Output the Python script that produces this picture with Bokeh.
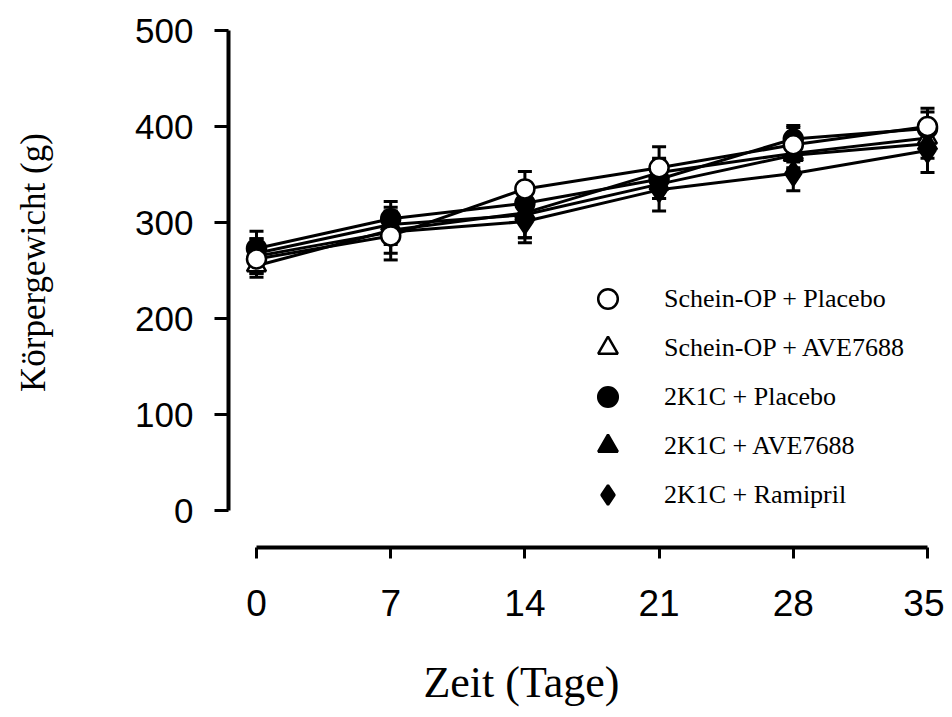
import math
from bokeh.plotting import figure
from bokeh.models import (ColumnDataSource, Whisker, TeeHead, Legend, LegendItem,
                          FixedTicker, Range1d, Label)
from bokeh.embed import file_html
from bokeh.resources import INLINE

# ---- data ----
days = [0, 7, 14, 21, 28, 35]
x_ticks = [0, 7, 14, 21, 28, 35]
y_ticks = [0, 100, 200, 300, 400, 500]

labels = ["Schein-OP + Placebo", "Schein-OP + AVE7688", "2K1C + Placebo",
          "2K1C + AVE7688", "2K1C + Ramipril"]

sham_placebo = [262, 286, 335, 357, 381, 400]
sham_placebo_err = [15, 25, 18, 22, 18, 19]
sham_ave = [255, 292, 310, 352, 372, 388]
sham_ave_err = [12, 15, 26, 15, 15, 15]
k_placebo = [273, 304, 320, 345, 387, 398]
k_placebo_err = [18, 18, 18, 20, 14, 17]
k_ave = [268, 298, 308, 340, 370, 382]
k_ave_err = [15, 18, 24, 15, 15, 15]
k_ramipril = [265, 290, 301, 334, 351, 375]
k_ramipril_err = [18, 22, 22, 22, 18, 23]

series = [
    # (values, errors, marker, fill)
    (sham_placebo, sham_placebo_err, "circle", "white"),
    (sham_ave, sham_ave_err, "triangle", "white"),
    (k_placebo, k_placebo_err, "circle", "black"),
    (k_ave, k_ave_err, "triangle", "black"),
    (k_ramipril, k_ramipril_err, "diamond", "black"),
]

p = figure(width=944, height=717, output_backend="svg", toolbar_location=None,
           x_range=Range1d(-1.4605, 35.887), y_range=Range1d(-38.54, 510.42),
           min_border_left=228, min_border_right=0, min_border_top=20,
           min_border_bottom=170)
p.outline_line_color = None
p.xgrid.visible = False
p.ygrid.visible = False
p.background_fill_color = "white"
p.border_fill_color = "white"

# axes
for ax in (p.xaxis[0], p.yaxis[0]):
    ax.axis_line_width = 4
    ax.axis_line_color = "black"
    ax.major_tick_line_width = 3
    ax.major_tick_line_color = "black"
    ax.major_tick_in = 0
    ax.minor_tick_line_color = None
    ax.major_label_text_font = "Liberation Sans"
    ax.major_label_text_color = "black"

p.yaxis[0].bounds = (0, 500)
p.yaxis[0].ticker = FixedTicker(ticks=y_ticks)
p.yaxis[0].major_tick_out = 14
p.yaxis[0].major_label_standoff = 21
p.yaxis[0].major_label_text_font_size = "35px"

p.xaxis[0].bounds = (0, 35)
p.xaxis[0].ticker = FixedTicker(ticks=x_ticks)
p.xaxis[0].major_tick_out = 11
p.xaxis[0].major_label_standoff = 31
p.xaxis[0].major_label_text_font_size = "37px"

# lines first
for vals, errs, marker, fill in series:
    p.line(days, vals, line_color="black", line_width=3)

# error bars
for vals, errs, marker, fill in series:
    src = ColumnDataSource(dict(x=days,
                                upper=[v + e for v, e in zip(vals, errs)],
                                lower=[v - e for v, e in zip(vals, errs)]))
    w = Whisker(base="x", upper="upper", lower="lower", source=src,
                line_width=3, line_color="black",
                upper_head=TeeHead(size=14, line_width=3, line_color="black"),
                lower_head=TeeHead(size=14, line_width=3, line_color="black"))
    p.add_layout(w)

# markers (draw order so open circle is on top)
renderers = {}
order = [1, 3, 2, 4, 0]
for i in order:
    vals, errs, marker, fill = series[i]
    size = 24 if marker == "diamond" else 19
    r = p.scatter(days, vals, marker=marker, size=size, fill_color=fill,
                  line_color="black", line_width=2.5)
    renderers[i] = r

legend = Legend(items=[LegendItem(label=labels[i], renderers=[renderers[i]]) for i in range(5)],
                location=(355, 28), orientation="vertical",
                glyph_width=49, glyph_height=49, spacing=0, label_standoff=32,
                padding=0, margin=0, border_line_color=None, background_fill_alpha=0,
                label_text_font="Liberation Serif", label_text_font_size="26px",
                label_text_color="black", label_height=49)
p.add_layout(legend)

# x-axis title
p.add_layout(Label(x=13.82, y=-179.0,
                   text="Zeit (Tage)", text_align="center", text_baseline="middle",
                   text_font="Liberation Serif", text_font_size="44px",
                   text_color="black"), "below")

# y-axis title
p.add_layout(Label(x=-11.63, y=258.3,
                   text="Körpergewicht (g)", angle=math.pi / 2,
                   text_align="center", text_baseline="middle",
                   text_font="Liberation Serif", text_font_size="35px",
                   text_color="black"), "left")

open("out.html", "w").write(file_html(p, INLINE))
